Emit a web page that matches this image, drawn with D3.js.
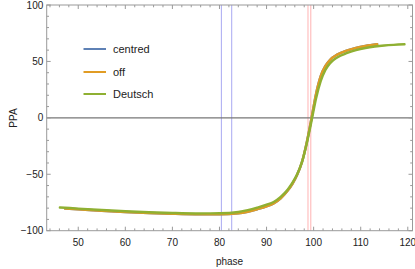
<!DOCTYPE html>
<html>
<head>
<script src="https://d3js.org/d3.v7.min.js"></script>
<style>
body { margin: 0; background: #fff; }
text { font-family: "Liberation Sans", Arial, sans-serif; fill: #222; }
</style>
</head>
<body>
<script>
var w = 415, h = 269;

// series
var deutschPhase = [46.1, 50, 55, 60, 65, 70, 75, 80, 84, 86, 88, 90, 91.5, 93, 94.5, 95.5, 96.5, 97.5, 98.5, 99.5, 100.5, 101.5, 102.5, 103.5, 105, 107, 109, 111, 113, 115, 117, 119.3];
var deutschPPA   = [-79.4, -80.4, -81.6, -82.7, -83.6, -84.3, -84.7, -84.6, -83.4, -81.8, -79.6, -77, -74.5, -70, -63.5, -57.5, -50, -39.5, -23.5, -4, 17, 32.5, 42.5, 48.5, 53.5, 57.3, 60, 61.9, 63.2, 64.1, 64.7, 65.2];

var offPhase = [47.2, 50, 55, 60, 65, 70, 75, 80, 84, 86, 88, 90, 91.5, 93, 94.5, 95.5, 96.5, 97.5, 98.5, 99.5, 100.5, 101.5, 102.5, 103.5, 105, 107, 109, 111, 113.5];
var offPPA   = [-80.3, -81, -82.3, -83.4, -84.3, -85, -85.4, -85.4, -84.6, -83.2, -81, -78.4, -75.8, -71.3, -64.5, -58.5, -50.5, -39.5, -22.5, -1.5, 21, 37, 46, 51.5, 56, 59.6, 62, 63.7, 65.2];

// centred lies under "off"
var centredPhase = offPhase.slice();
var centredPPA = offPPA.slice();

var blueMarks = [80.4, 82.6];
var redMarks = [98.8, 99.4];

var xTicks = [50, 60, 70, 80, 90, 100, 110, 120];
var yTicks = [-100, -50, 0, 50, 100];

var legendNames = ["centred", "off", "Deutsch"];
var colors = ["#5e81b5", "#e19c24", "#8fb032"];

var svg = d3.select("body").append("svg")
    .attr("width", w)
    .attr("height", h);

var x = d3.scaleLinear().domain([43.3, 121]).range([46.7, 412.5]);
var y = d3.scaleLinear().domain([-100, 100]).range([230.7, 5]);

var frameColor = "#9a9a9a";

// marker lines
blueMarks.forEach(function(v) {
    svg.append("line")
        .attr("x1", x(v)).attr("x2", x(v))
        .attr("y1", y(100)).attr("y2", y(-100))
        .attr("stroke", "#a9a9f2").attr("stroke-width", 1);
});
redMarks.forEach(function(v) {
    svg.append("line")
        .attr("x1", x(v)).attr("x2", x(v))
        .attr("y1", y(100)).attr("y2", y(-100))
        .attr("stroke", "#ffb3b3").attr("stroke-width", 1);
});

// zero line
svg.append("line")
    .attr("x1", x.range()[0]).attr("x2", x.range()[1])
    .attr("y1", y(0)).attr("y2", y(0))
    .attr("stroke", "#777").attr("stroke-width", 1.1);

var line = d3.line()
    .x(function(d) { return x(d[0]); })
    .y(function(d) { return y(d[1]); })
    .curve(d3.curveMonotoneX);

var series = [
    d3.zip(centredPhase, centredPPA),
    d3.zip(offPhase, offPPA),
    d3.zip(deutschPhase, deutschPPA)
];

series.forEach(function(s, i) {
    svg.append("path")
        .datum(s)
        .attr("d", line)
        .attr("fill", "none")
        .attr("stroke", colors[i])
        .attr("stroke-width", 2.4)
        .attr("stroke-linecap", "round");
});

// frame
svg.append("rect")
    .attr("x", x.range()[0]).attr("y", y(100))
    .attr("width", x.range()[1] - x.range()[0])
    .attr("height", y(-100) - y(100))
    .attr("fill", "none")
    .attr("stroke", frameColor).attr("stroke-width", 1);

// ticks, inward on all four sides
var xMinor = d3.range(44, 121.5, 2).filter(function(v) { return v % 10 != 0; });
var yMinor = d3.range(-90, 100, 10).filter(function(v) { return v % 50 != 0; });
var tg = svg.append("g").attr("stroke", frameColor).attr("stroke-width", 1);

function xTick(v, len) {
    tg.append("line").attr("x1", x(v)).attr("x2", x(v))
        .attr("y1", y(-100)).attr("y2", y(-100) - len);
    tg.append("line").attr("x1", x(v)).attr("x2", x(v))
        .attr("y1", y(100)).attr("y2", y(100) + len);
}
function yTick(v, len) {
    tg.append("line").attr("y1", y(v)).attr("y2", y(v))
        .attr("x1", x.range()[0]).attr("x2", x.range()[0] + len);
    tg.append("line").attr("y1", y(v)).attr("y2", y(v))
        .attr("x1", x.range()[1]).attr("x2", x.range()[1] - len);
}
xTicks.forEach(function(v) { xTick(v, 4); });
xMinor.forEach(function(v) { xTick(v, 2.3); });
yTicks.forEach(function(v) { yTick(v, 4); });
yMinor.forEach(function(v) { yTick(v, 2.3); });

// tick labels
var fmt = function(v) { return v < 0 ? "\u2212" + Math.abs(v) : String(v); };
svg.selectAll(".xl").data(xTicks).enter().append("text")
    .attr("x", function(d) { return x(d); })
    .attr("y", 245.5)
    .attr("text-anchor", "middle")
    .attr("font-size", 10)
    .text(fmt);
svg.selectAll(".yl").data(yTicks).enter().append("text")
    .attr("x", 43.3)
    .attr("y", function(d) { return y(d) + 3.6; })
    .attr("text-anchor", "end")
    .attr("font-size", 10)
    .text(fmt);

// axis labels
svg.append("text")
    .attr("x", 229.5).attr("y", 265)
    .attr("text-anchor", "middle")
    .attr("font-size", 10)
    .text("phase");
svg.append("text")
    .attr("transform", "translate(17,118) rotate(-90)")
    .attr("text-anchor", "middle")
    .attr("font-size", 10)
    .text("PPA");

// legend
var legendY = [49, 72, 94];
legendNames.forEach(function(name, i) {
    svg.append("line")
        .attr("x1", 83.5).attr("x2", 106)
        .attr("y1", legendY[i]).attr("y2", legendY[i])
        .attr("stroke", colors[i]).attr("stroke-width", 2);
    svg.append("text")
        .attr("x", 113).attr("y", legendY[i] + 4)
        .attr("font-size", 11)
        .text(name);
});
</script>
</body>
</html>
